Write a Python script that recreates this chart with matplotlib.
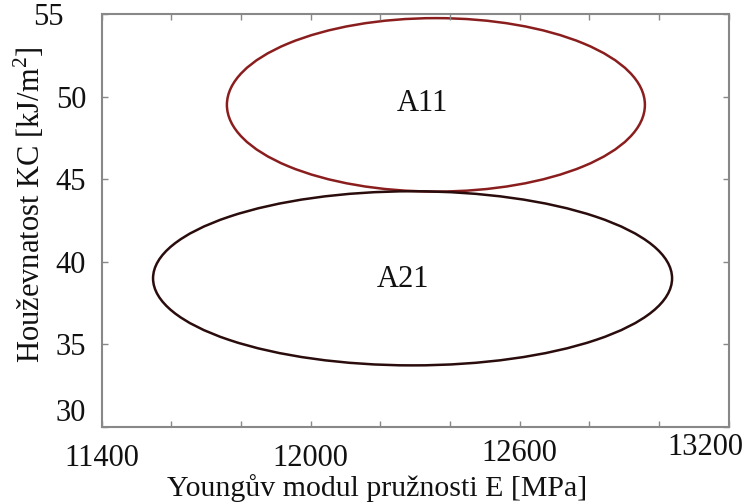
import matplotlib
matplotlib.use("Agg")
import matplotlib.pyplot as plt
from matplotlib.patches import Ellipse
from matplotlib.transforms import ScaledTranslation
from matplotlib.ticker import MultipleLocator, FixedLocator

plt.rcParams['font.family'] = ['Liberation Serif', 'DejaVu Serif']
plt.rcParams['mathtext.fontset'] = 'custom'
plt.rcParams['mathtext.rm'] = 'Liberation Serif'

# Confidence regions: centre (E, KC) and semi-axes
groups = ["A11", "A21"]
center_E = [12360, 12293]
center_KC = [49.5, 39.0]
semi_E = [600, 745]
semi_KC = [5.25, 5.27]
colors = ["#8a1e1e", "#2a0c0c"]
label_E = [12320, 12266]
label_KC = [49.6, 38.9]

x_ticks = [11400, 12000, 12600, 13200]
y_ticks = [30, 35, 40, 45, 50, 55]

fig = plt.figure(figsize=(7.53, 5.04), dpi=100)
W, H = 753, 504
ax = fig.add_axes([101.5 / W, (H - 427) / H, 627 / W, 413 / H])

for name, cx, cy, a, b, c, lx, ly in zip(groups, center_E, center_KC, semi_E, semi_KC,
                                         colors, label_E, label_KC):
    ax.add_patch(Ellipse((cx, cy), 2 * a, 2 * b, fill=False, edgecolor=c, linewidth=1.8))
    ax.text(lx, ly, name, ha="center", va="center", fontsize=22, color="#111111")

ax.set_xlim(11400, 13200)
ax.set_ylim(30, 55)
ax.xaxis.set_major_locator(FixedLocator(x_ticks))
ax.xaxis.set_minor_locator(MultipleLocator(200))
ax.yaxis.set_major_locator(FixedLocator(y_ticks))
ax.set_xticklabels([str(v) for v in x_ticks])
ax.set_yticklabels([str(v) for v in y_ticks])

ax.tick_params(which="both", direction="in", top=True, right=True,
               color="#888888", length=4, width=1)
ax.tick_params(axis="both", labelsize=22, labelcolor="#111111")
ax.tick_params(axis="x", pad=2)
ax.tick_params(axis="y", pad=11)

for s in ax.spines.values():
    s.set_color("#888888")
    s.set_linewidth(1.5)

# individual shifts of the tick labels (points)
x_shift = {11400: (0, -10), 12000: (0, -10.5), 12600: (0, -6.5), 13200: (-17, -2)}
for lab, v in zip(ax.get_xticklabels(), x_ticks):
    dx, dy = x_shift[v]
    lab.set_transform(lab.get_transform() + ScaledTranslation(dx / 72, dy / 72, fig.dpi_scale_trans))
y_shift = {55: (-16, 0), 30: (0, 12)}
for lab, v in zip(ax.get_yticklabels(), y_ticks):
    if v in y_shift:
        dx, dy = y_shift[v]
        lab.set_transform(lab.get_transform() + ScaledTranslation(dx / 72, dy / 72, fig.dpi_scale_trans))

ax.set_xlabel("Youngův modul pružnosti E [MPa]", fontsize=21.5, color="#111111")
ax.xaxis.set_label_coords((377 - 101.5) / 627, -(474 - 427) / 413)
ax.set_ylabel("Houževnatost KC [kJ/m$^2$]", fontsize=22, color="#111111")
ax.yaxis.set_label_coords(-(101.5 - 47) / 627, (427 - 205) / 413)

fig.savefig("out.png", dpi=100)
